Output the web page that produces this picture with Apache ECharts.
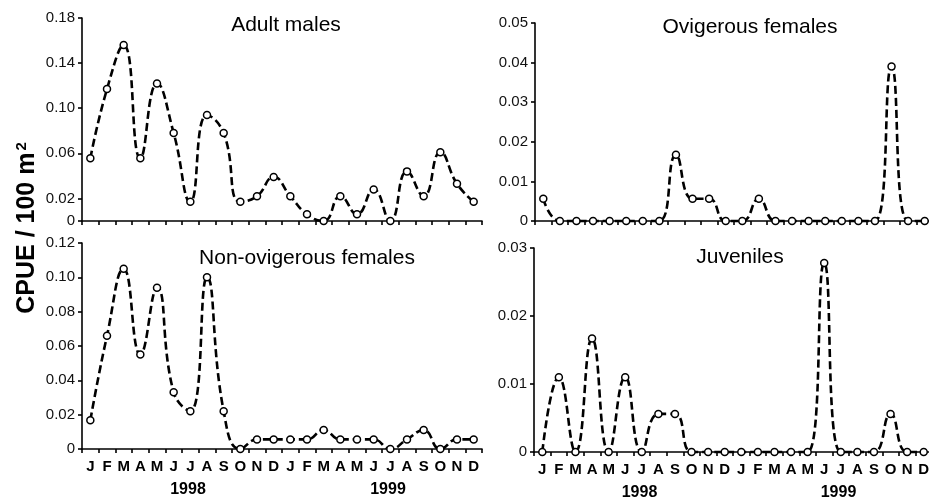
<!DOCTYPE html>
<html>
<head>
<meta charset="utf-8">
<title>CPUE</title>
<script src="https://cdn.jsdelivr.net/npm/echarts@6/dist/echarts.min.js"></script>
<style>
  html, body { margin: 0; padding: 0; background: #fff; }
  #chart { width: 929px; height: 497px; }
</style>
</head>
<body>
<div id="chart"></div>
<script>
// data (24 monthly samples, Jan 1998 - Dec 1999)
const months = ['J','F','M','A','M','J','J','A','S','O','N','D','J','F','M','A','M','J','J','A','S','O','N','D'];
const years = ['1998', '1999'];
const panelTitles = ['Adult males', 'Ovigerous females', 'Non-ovigerous females', 'Juveniles'];

const adultMales = [0.0556, 0.117, 0.156, 0.0556, 0.122, 0.078, 0.017, 0.094, 0.078, 0.017, 0.022, 0.039,
                    0.022, 0.006, 0, 0.022, 0.006, 0.028, 0, 0.044, 0.022, 0.061, 0.033, 0.017];
const ovigerousFemales = [0.0056, 0, 0, 0, 0, 0, 0, 0, 0.0167, 0.0056, 0.0056, 0,
                          0, 0.0056, 0, 0, 0, 0, 0, 0, 0, 0.039, 0, 0];
const nonOvigerousFemales = [0.0167, 0.066, 0.105, 0.055, 0.094, 0.033, 0.022, 0.1, 0.022, 0, 0.0056, 0.0056,
                             0.0056, 0.0056, 0.011, 0.0056, 0.0056, 0.0056, 0, 0.0056, 0.011, 0, 0.0056, 0.0056];
const juveniles = [0, 0.011, 0, 0.0167, 0, 0.011, 0, 0.0056, 0.0056, 0, 0, 0,
                   0, 0, 0, 0, 0, 0.0278, 0, 0, 0, 0.0056, 0, 0];

const ticksAdult = [0, 0.02, 0.06, 0.10, 0.14, 0.18];
const ticksOvig = [0, 0.01, 0.02, 0.03, 0.04, 0.05];
const ticksNonOvig = [0, 0.02, 0.04, 0.06, 0.08, 0.10, 0.12];
const ticksJuv = [0, 0.01, 0.02, 0.03];

const FONT = '"Liberation Sans", Arial, Helvetica, sans-serif';

// layout of the four panels
const panels = [
  { series: adultMales, ticks: ticksAdult, grid: { left: 82, top: 18, width: 400, height: 203 }, tx: 286, ty: 15, labels: false },
  { series: ovigerousFemales, ticks: ticksOvig, grid: { left: 535, top: 23, width: 398, height: 198 }, tx: 750, ty: 16.5, labels: false },
  { series: nonOvigerousFemales, ticks: ticksNonOvig, grid: { left: 82, top: 243, width: 400, height: 206 }, tx: 307, ty: 248, labels: true },
  { series: juveniles, ticks: ticksJuv, grid: { left: 534, top: 248, width: 398, height: 204 }, tx: 740, ty: 246.5, labels: true }
];

const axisLine = { show: true, lineStyle: { color: '#000', width: 1.6 } };
const axisTick = { show: true, length: 4, lineStyle: { color: '#000', width: 1.6 } };

const grids = [], xAxes = [], yAxes = [], series = [], titles = [];

panels.forEach((p, i) => {
  grids.push(Object.assign({ outerBoundsMode: 'none' }, p.grid));

  xAxes.push({
    type: 'category', gridIndex: i, position: 'bottom', data: months, boundaryGap: true,
    axisLine: axisLine, axisTick: Object.assign({ interval: 0 }, axisTick),
    axisLabel: {
      show: p.labels, interval: 0, margin: 10, hideOverlap: false,
      color: '#000', fontFamily: FONT, fontWeight: 'bold', fontSize: 15
    },
    splitLine: { show: false }
  });

  yAxes.push({
    type: 'value', gridIndex: i, min: 0, max: p.ticks[p.ticks.length - 1],
    axisLine: axisLine,
    axisTick: Object.assign({ customValues: p.ticks }, axisTick),
    axisLabel: {
      customValues: p.ticks, margin: 7, color: '#111', fontFamily: FONT, fontSize: 15,
      formatter: (v) => (v === 0 ? '0' : v.toFixed(2))
    },
    splitLine: { show: false }
  });

  titles.push({
    text: panelTitles[i], left: p.tx, top: p.ty, textAlign: 'center', padding: 0,
    textStyle: { fontFamily: FONT, fontSize: 21, fontWeight: 'normal', color: '#000' }
  });

  series.push({
    type: 'line', xAxisIndex: i, yAxisIndex: i, data: p.series,
    smooth: 0.5, clip: false,
    symbol: 'circle', symbolSize: 7,
    lineStyle: { color: '#000', width: 2.6, type: [8, 4] },
    itemStyle: { color: '#fff', borderColor: '#000', borderWidth: 1.5 },
    z: 3
  });
});

// year labels under the bottom panels
[2, 3].forEach((gi) => {
  xAxes.push({
    type: 'category', gridIndex: gi, position: 'bottom', data: years, boundaryGap: true,
    axisLine: { show: false }, axisTick: { show: false },
    axisLabel: {
      interval: 0, margin: 33, padding: [0, 0, 0, 12],
      color: '#000', fontFamily: FONT, fontWeight: 'bold', fontSize: 16
    }
  });
});

const chart = echarts.init(document.getElementById('chart'), null, { renderer: 'canvas' });
chart.setOption({
  animation: false,
  backgroundColor: '#fff',
  title: titles,
  grid: grids,
  xAxis: xAxes,
  yAxis: yAxes,
  series: series,
  graphic: [{
    type: 'text', x: 27, y: 228, rotation: Math.PI / 2,
    style: {
      text: '{a|CPUE / 100 m}{b|2}',
      align: 'center', verticalAlign: 'middle',
      rich: {
        a: { fontFamily: FONT, fontWeight: 'bold', fontSize: 25, fill: '#000' },
        b: { fontFamily: FONT, fontWeight: 'bold', fontSize: 15, fill: '#000', verticalAlign: 'top', padding: [0, 0, 8, 2] }
      }
    }
  }]
});
</script>
</body>
</html>
